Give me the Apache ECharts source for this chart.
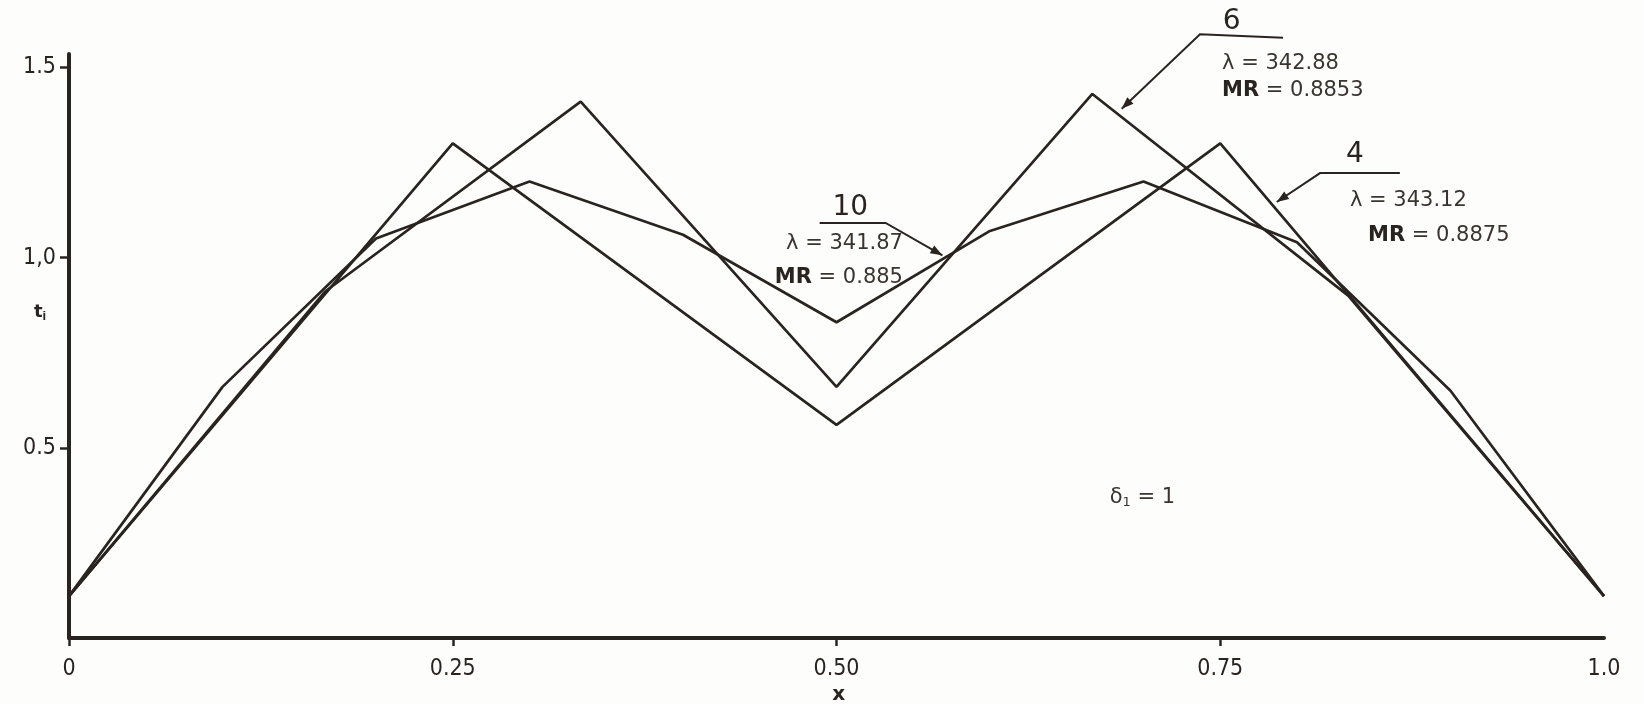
<!DOCTYPE html>
<html>
<head>
<meta charset="utf-8">
<title>t_i vs x</title>
<script src="https://cdn.jsdelivr.net/npm/echarts@6/dist/echarts.min.js"></script>
<style>
  html, body { margin: 0; padding: 0; background: #fdfdfb; }
  #chart { width: 1644px; height: 704px; }
</style>
</head>
<body>
<div id="chart"></div>
<script>
// Element temperatures t_i along x for three mesh sizes (4, 6 and 10 segments)
const xs4  = [0, 0.25, 0.5, 0.75, 1.0];
const t4   = [0.11, 1.30, 0.56, 1.30, 0.11];

const xs6  = [0, 1 / 6, 1 / 3, 0.5, 2 / 3, 5 / 6, 1.0];
const t6   = [0.11, 0.91, 1.41, 0.66, 1.43, 0.90, 0.11];

const xs10 = [0, 0.1, 0.2, 0.3, 0.4, 0.5, 0.6, 0.7, 0.8, 0.9, 1.0];
const t10  = [0.11, 0.66, 1.05, 1.20, 1.06, 0.83, 1.07, 1.20, 1.04, 0.65, 0.11];

// Tick labels as printed on the axes
const xTickValues = [0, 0.25, 0.5, 0.75, 1.0];
const xTickLabels = ['0', '0.25', '0.50', '0.75', '1.0'];
const yTickValues = [0.5, 1.0, 1.5];
const yTickLabels = ['0.5', '1,0', '1.5'];

// Callouts: mesh size, eigenvalue and MR for each curve
const callNames  = ['10', '6', '4'];
const callLambda = ['341.87', '342.88', '343.12'];
const callMR     = ['0.885', '0.8853', '0.8875'];

const INK = '#2a2420';
const TICK_FONT = '"DejaVu Sans Condensed", "Liberation Sans Narrow", sans-serif';
const pairs = (xs, ys) => xs.map((x, i) => [x, ys[i]]);

const chart = echarts.init(document.getElementById('chart'));

const lineSeries = (name, data) => ({
  name, type: 'line', data, symbol: 'none', silent: true,
  lineStyle: { color: INK, width: 2.7 }, z: 3
});

chart.setOption({
  backgroundColor: '#fdfdfb',
  animation: false,
  grid: { left: 69, right: 40, top: 54, bottom: 66 },
  xAxis: {
    type: 'value', min: 0, max: 1, interval: 0.25,
    axisLine: { lineStyle: { color: INK, width: 4 } },
    axisTick: { show: true, length: 8, customValues: [0, 0.25, 0.5, 0.75], lineStyle: { color: INK, width: 2.5 } },
    axisLabel: {
      customValues: xTickValues, margin: 20,
      fontFamily: TICK_FONT, fontSize: 23, color: INK,
      formatter: v => xTickLabels[xTickValues.findIndex(t => Math.abs(t - v) < 1e-6)] ?? ''
    },
    splitLine: { show: false }
  },
  yAxis: {
    type: 'value', min: 0, max: 1.535, interval: 0.5,
    axisLine: { show: true, lineStyle: { color: INK, width: 4 } },
    axisTick: { show: true, length: 9, customValues: yTickValues, lineStyle: { color: INK, width: 2.5 } },
    axisLabel: {
      customValues: yTickValues, margin: 13,
      fontFamily: TICK_FONT, fontSize: 23, color: INK,
      formatter: v => yTickLabels[yTickValues.findIndex(t => Math.abs(t - v) < 1e-6)] ?? ''
    },
    splitLine: { show: false }
  },
  series: [
    lineSeries('N=4', pairs(xs4, t4)),
    lineSeries('N=6', pairs(xs6, t6)),
    lineSeries('N=10', pairs(xs10, t10))
  ]
});

// Callout geometry in data units: title centre, leader elbow/end, arrow tip, text anchors
const callouts = [
  { title: [0.509, 1.132], bar: [[0.489, 1.091], [0.532, 1.091]], tip: [0.569, 1.006],
    lam: [0.5433, 1.0375], mr: [0.5433, 0.948], align: 'right' },
  { title: [0.7575, 1.619], bar: [[0.7368, 1.587], [0.7909, 1.578]], tip: [0.6858, 1.391],
    lam: [0.7512, 1.510], mr: [0.7512, 1.439], align: 'left' },
  { title: [0.8378, 1.269], bar: [[0.815, 1.222], [0.867, 1.222]], tip: [0.7868, 1.146],
    lam: [0.8345, 1.150], mr: [0.8463, 1.058], align: 'left' }
];

function drawAnnotations() {
  const P = v => chart.convertToPixel({ gridIndex: 0 }, v);
  const g = [];
  const txtFont = '"DejaVu Sans", sans-serif';
  callouts.forEach((c, i) => {
    const t = P(c.title), a = P(c.bar[0]), b = P(c.bar[1]), tip = P(c.tip);
    const elbow = c.align === 'right' ? b : a;
    const other = c.align === 'right' ? a : b;
    // underline and leader
    g.push({ type: 'polyline', silent: true, shape: { points: [other, elbow, tip] },
      style: { stroke: INK, lineWidth: 2, fill: null }, z: 10 });
    // arrowhead
    const dx = tip[0] - elbow[0], dy = tip[1] - elbow[1];
    const L = Math.hypot(dx, dy), ux = dx / L, uy = dy / L;
    const hl = 12, hw = 4.5;
    g.push({ type: 'polygon', silent: true, shape: { points: [
      tip,
      [tip[0] - ux * hl - uy * hw, tip[1] - uy * hl + ux * hw],
      [tip[0] - ux * hl + uy * hw, tip[1] - uy * hl - ux * hw]
    ] }, style: { fill: INK }, z: 10 });
    // mesh size
    g.push({ type: 'text', silent: true, x: t[0], y: t[1], z: 10,
      style: { text: callNames[i], font: '28px ' + txtFont, fill: INK, align: 'center', verticalAlign: 'middle' } });
    const l = P(c.lam), m = P(c.mr);
    g.push({ type: 'text', silent: true, x: l[0], y: l[1], z: 10,
      style: { text: 'λ = ' + callLambda[i], font: '21px ' + txtFont, fill: '#3a3430', align: c.align, verticalAlign: 'middle' } });
    g.push({ type: 'text', silent: true, x: m[0], y: m[1], z: 10,
      style: { text: '{b|MR} = ' + callMR[i], font: '21px ' + txtFont, fill: '#3a3430', align: c.align, verticalAlign: 'middle',
        rich: { b: { fontWeight: 'bold', fontSize: 21, fontFamily: 'DejaVu Sans', fill: INK } } } });
  });

  // δ1 = 1
  const d = P([0.678, 0.370]);
  g.push({ type: 'text', silent: true, x: d[0], y: d[1], z: 10,
    style: { text: 'δ{s|1} = 1', font: '21px ' + txtFont, fill: '#3a3430', align: 'left', verticalAlign: 'middle',
      rich: { s: { fontSize: 13, padding: [10, 0, 0, 0], fontFamily: 'DejaVu Sans' } } } });

  // axis names
  const xn = P([0.5015, -0.15]);
  g.push({ type: 'text', silent: true, x: xn[0], y: xn[1], z: 10,
    style: { text: 'x', font: 'bold 20px "DejaVu Sans", sans-serif', fill: INK, align: 'center', verticalAlign: 'middle' } });
  g.push({ type: 'text', silent: true, x: 40, y: P([0, 0.855])[1], z: 10,
    style: { text: 't{s|i}', font: 'bold 18px "DejaVu Sans", sans-serif', fill: INK, align: 'center', verticalAlign: 'middle',
      rich: { s: { fontSize: 13, fontWeight: 'bold', padding: [8, 0, 0, 0] } } } });

  chart.setOption({ graphic: g });
}
drawAnnotations();
</script>
</body>
</html>
